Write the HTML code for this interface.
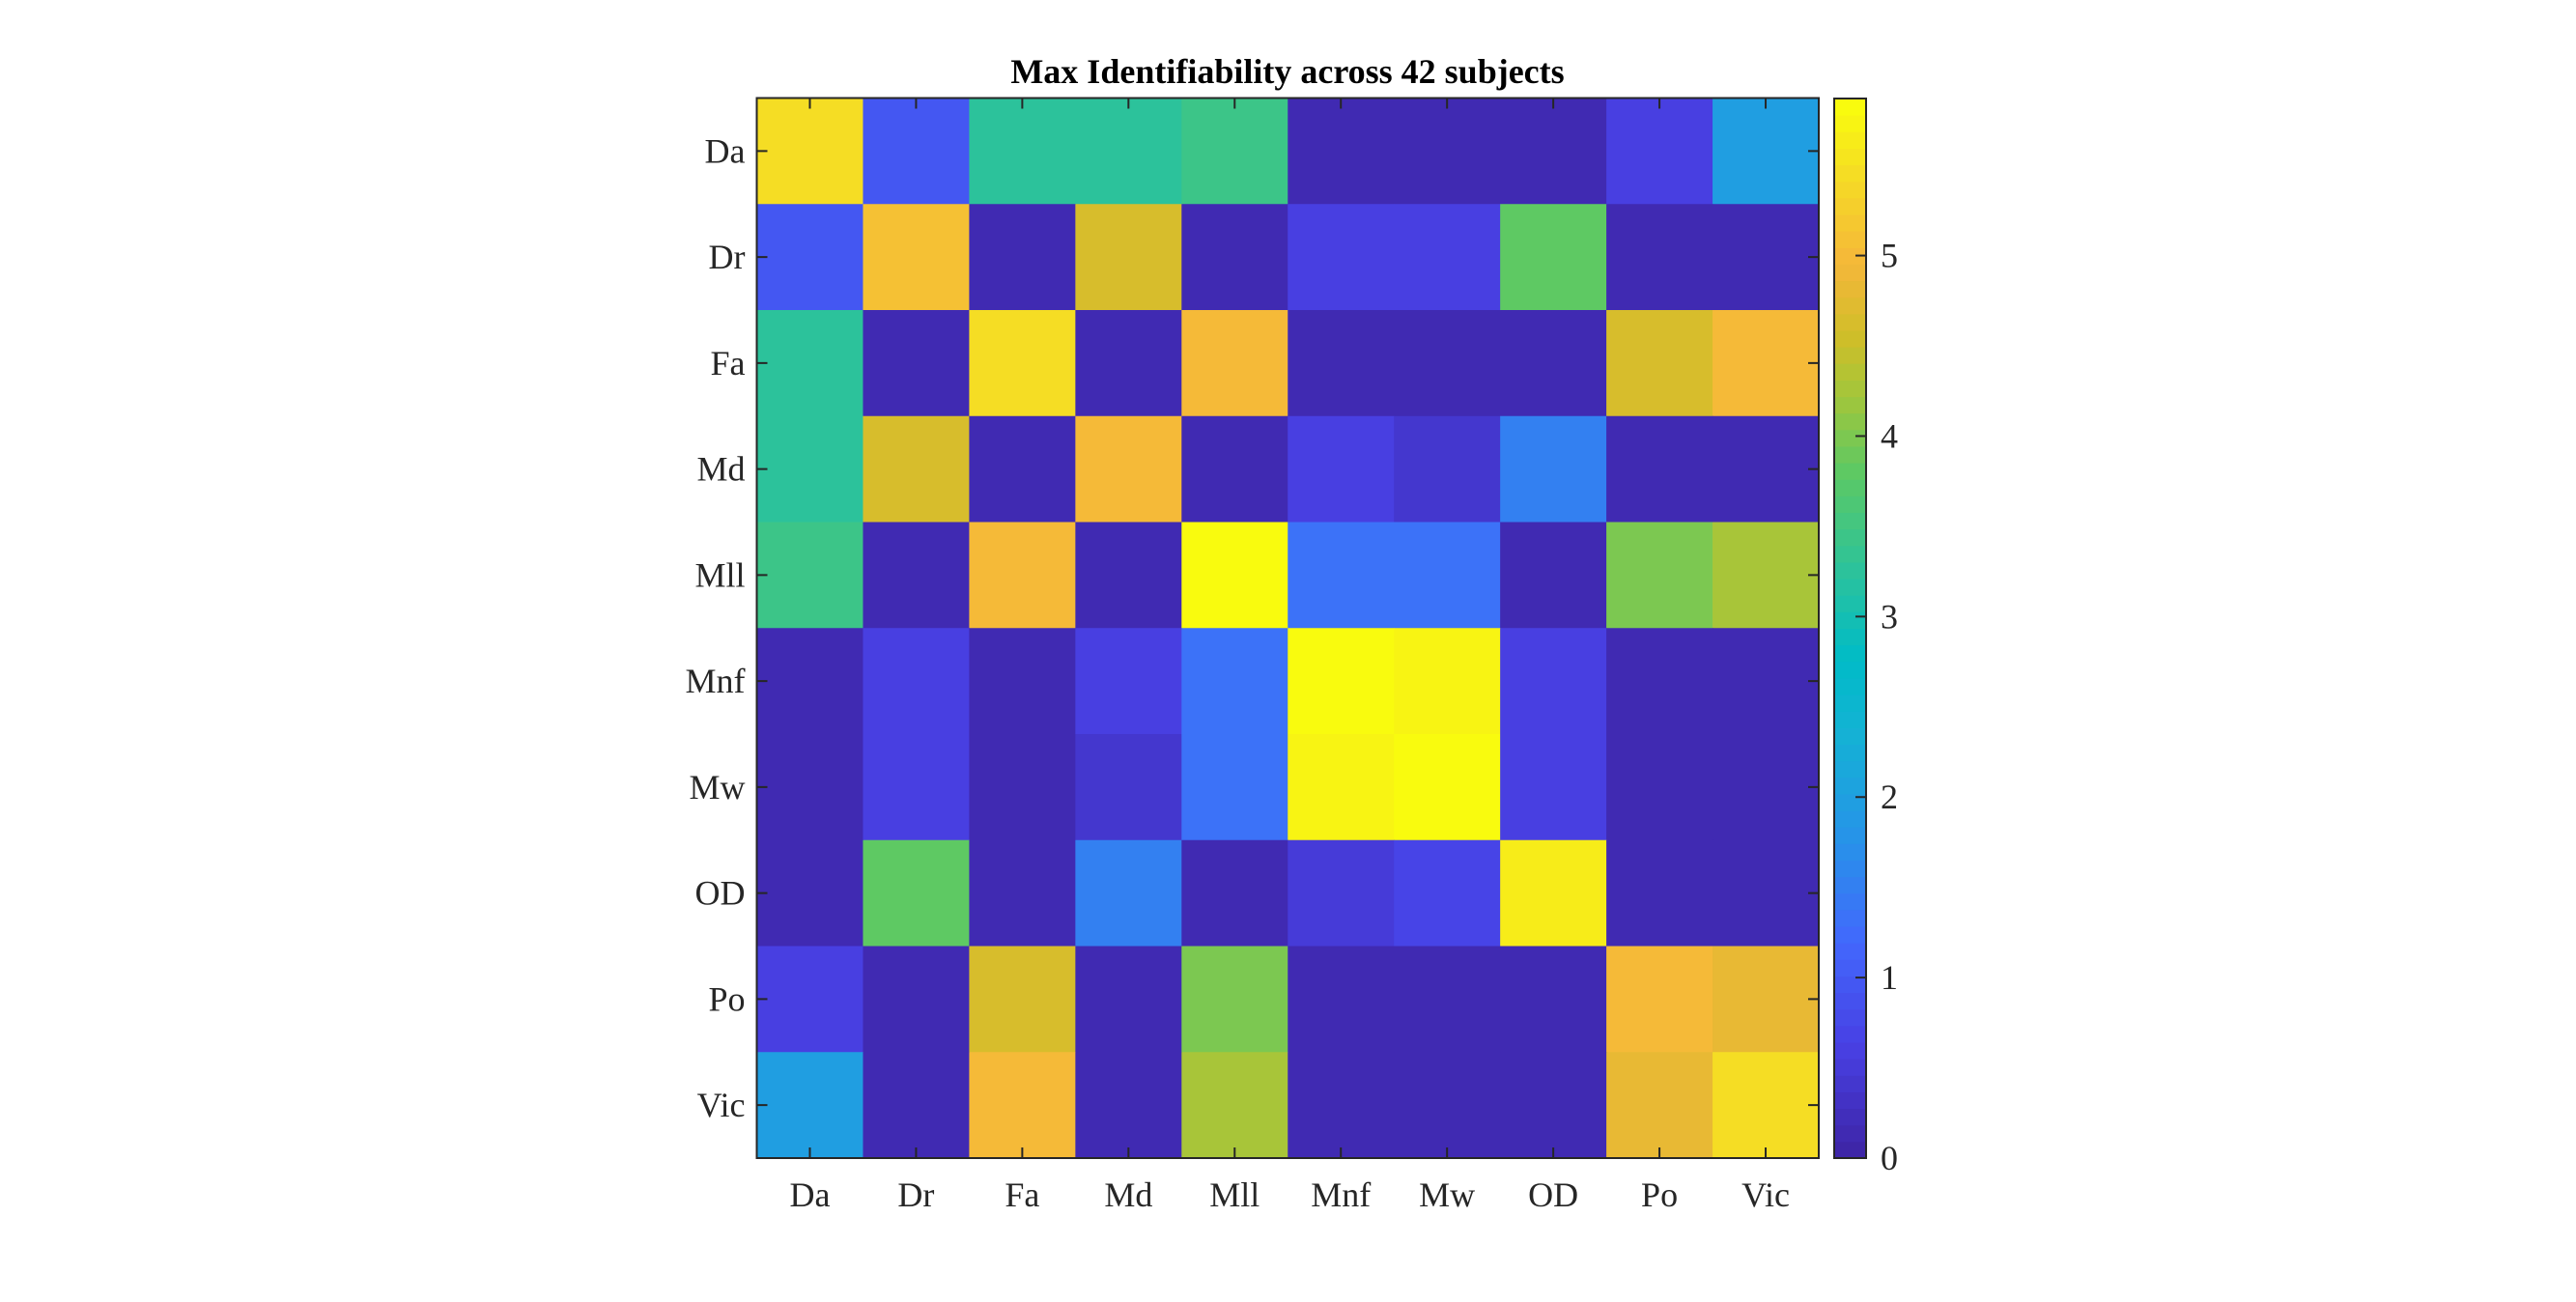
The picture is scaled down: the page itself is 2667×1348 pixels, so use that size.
<!DOCTYPE html>
<html><head><meta charset="utf-8"><style>
html,body{margin:0;padding:0;background:#fff;}
svg{display:block;font-family:"Liberation Serif",serif;}
</style></head><body>
<svg id="chart" width="2667" height="1348" viewBox="0 0 2667 1348" xmlns="http://www.w3.org/2000/svg">
<rect width="2667" height="1348" fill="#fff"/>
<text x="1333" y="86" text-anchor="middle" font-size="36" font-weight="bold" fill="#000">Max Identifiability across 42 subjects</text>
<g id="cells"></g>
<g id="axes"></g>
<g id="cbar"></g>
</svg>
<script>
const categories = ["Da","Dr","Fa","Md","Mll","Mnf","Mw","OD","Po","Vic"];
const rowDa  = [5.5,1.0,3.3,3.3,3.4,0.15,0.15,0.15,0.6,2.0];
const rowDr  = [1.0,5.1,0.15,4.6,0.15,0.6,0.6,3.8,0.15,0.15];
const rowFa  = [3.3,0.15,5.5,0.15,5.0,0.15,0.15,0.15,4.6,5.0];
const rowMd  = [3.3,4.6,0.15,5.0,0.15,0.6,0.45,1.5,0.15,0.15];
const rowMll = [3.4,0.15,5.0,0.15,5.85,1.3,1.3,0.15,4.0,4.3];
const rowMnf = [0.15,0.6,0.15,0.6,1.3,5.85,5.72,0.6,0.15,0.15];
const rowMw  = [0.15,0.6,0.15,0.45,1.3,5.7,5.85,0.6,0.15,0.15];
const rowOD  = [0.15,3.8,0.15,1.5,0.15,0.55,0.65,5.6,0.15,0.15];
const rowPo  = [0.6,0.15,4.6,0.15,4.0,0.15,0.15,0.15,5.0,4.8];
const rowVic = [2.0,0.15,5.0,0.15,4.3,0.15,0.15,0.15,4.8,5.5];
const values = [rowDa,rowDr,rowFa,rowMd,rowMll,rowMnf,rowMw,rowOD,rowPo,rowVic];
const cbarTicks = [0,1,2,3,4,5];
const cmin = 0, cmax = 5.87;

const NS="http://www.w3.org/2000/svg";
const L=783.5,T=101.5,R=1883,B=1199;
const n=categories.length, cw=(R-L)/n, ch=(B-T)/n;
const xPos=i=>L+i*cw, yPos=i=>T+i*ch;
const stops=[[0,62,38,168],[0.1,72,64,228],[0.2,66,104,252],[0.3,38,148,232],[0.4,20,178,212],[0.47,0,187,199],[0.55,41,194,158],[0.65,93,201,99],[0.72,160,198,60],[0.78,208,190,40],[0.85,245,183,58],[0.93,245,218,38],[1,249,251,14]];
function parula(v){
  let t=Math.max(0,Math.min(1,(v-cmin)/(cmax-cmin)));
  t=Math.min(63,Math.floor(t*64))/63;
  for(let k=1;k<stops.length;k++){
    if(t<=stops[k][0]){const a=stops[k-1],b=stops[k],f=(t-a[0])/(b[0]-a[0]);
      return `rgb(${Math.round(a[1]+f*(b[1]-a[1]))},${Math.round(a[2]+f*(b[2]-a[2]))},${Math.round(a[3]+f*(b[3]-a[3]))})`;}
  }
  return "rgb(249,251,14)";
}
function mk(tag,attrs,parent){const e=document.createElementNS(NS,tag);for(const k in attrs)e.setAttribute(k,attrs[k]);parent.appendChild(e);return e;}
const cells=document.getElementById('cells');
values.forEach((row,r)=>row.forEach((v,c)=>{
  const e=mk('rect',{x:xPos(c),y:yPos(r),width:cw+0.5,height:ch+0.5,fill:parula(v)},cells);
  
  
}));
const ax=document.getElementById('axes');
mk('rect',{x:L,y:T,width:R-L,height:B-T,fill:'none',stroke:'#262626','stroke-width':2},ax);
categories.forEach((lab,i)=>{
  const cx=xPos(i)+cw/2, cy=yPos(i)+ch/2;
  mk('line',{x1:cx,y1:T,x2:cx,y2:T+11,stroke:'#262626','stroke-width':2},ax);
  mk('line',{x1:cx,y1:B,x2:cx,y2:B-11,stroke:'#262626','stroke-width':2},ax);
  mk('line',{x1:L,y1:cy,x2:L+11,y2:cy,stroke:'#262626','stroke-width':2},ax);
  mk('line',{x1:R,y1:cy,x2:R-11,y2:cy,stroke:'#262626','stroke-width':2},ax);
  const tx=mk('text',{x:cx,y:B+50,'text-anchor':'middle','font-size':36,fill:'#262626'},ax);
  tx.textContent=lab;
  
  
  const ty=mk('text',{x:L-12,y:cy+12,'text-anchor':'end','font-size':36,fill:'#262626'},ax);
  ty.textContent=lab;
  
  
});
const cb=document.getElementById('cbar');
const CL=1899,CR=1932,CT=102,CB=1199;
const cy=v=>CB-(v-cmin)/(cmax-cmin)*(CB-CT);
for(let k=0;k<64;k++){
  const v0=cmin+k*(cmax-cmin)/64, v1=cmin+(k+1)*(cmax-cmin)/64;
  const e=mk('rect',{x:CL,y:cy(v1),width:CR-CL,height:cy(v0)-cy(v1)+0.5,fill:parula((v0+v1)/2)},cb);
  
  
}
mk('rect',{x:CL,y:CT,width:CR-CL,height:CB-CT,fill:'none',stroke:'#262626','stroke-width':2},cb);
cbarTicks.forEach(v=>{
  const y=cy(v);
  mk('line',{x1:CR,y1:y,x2:CR-11,y2:y,stroke:'#262626','stroke-width':2},cb);
  const t=mk('text',{x:CR+15,y:y+12,'font-size':36,fill:'#262626'},cb);
  t.textContent=String(v);
  
  
});
</script>
</body></html>
